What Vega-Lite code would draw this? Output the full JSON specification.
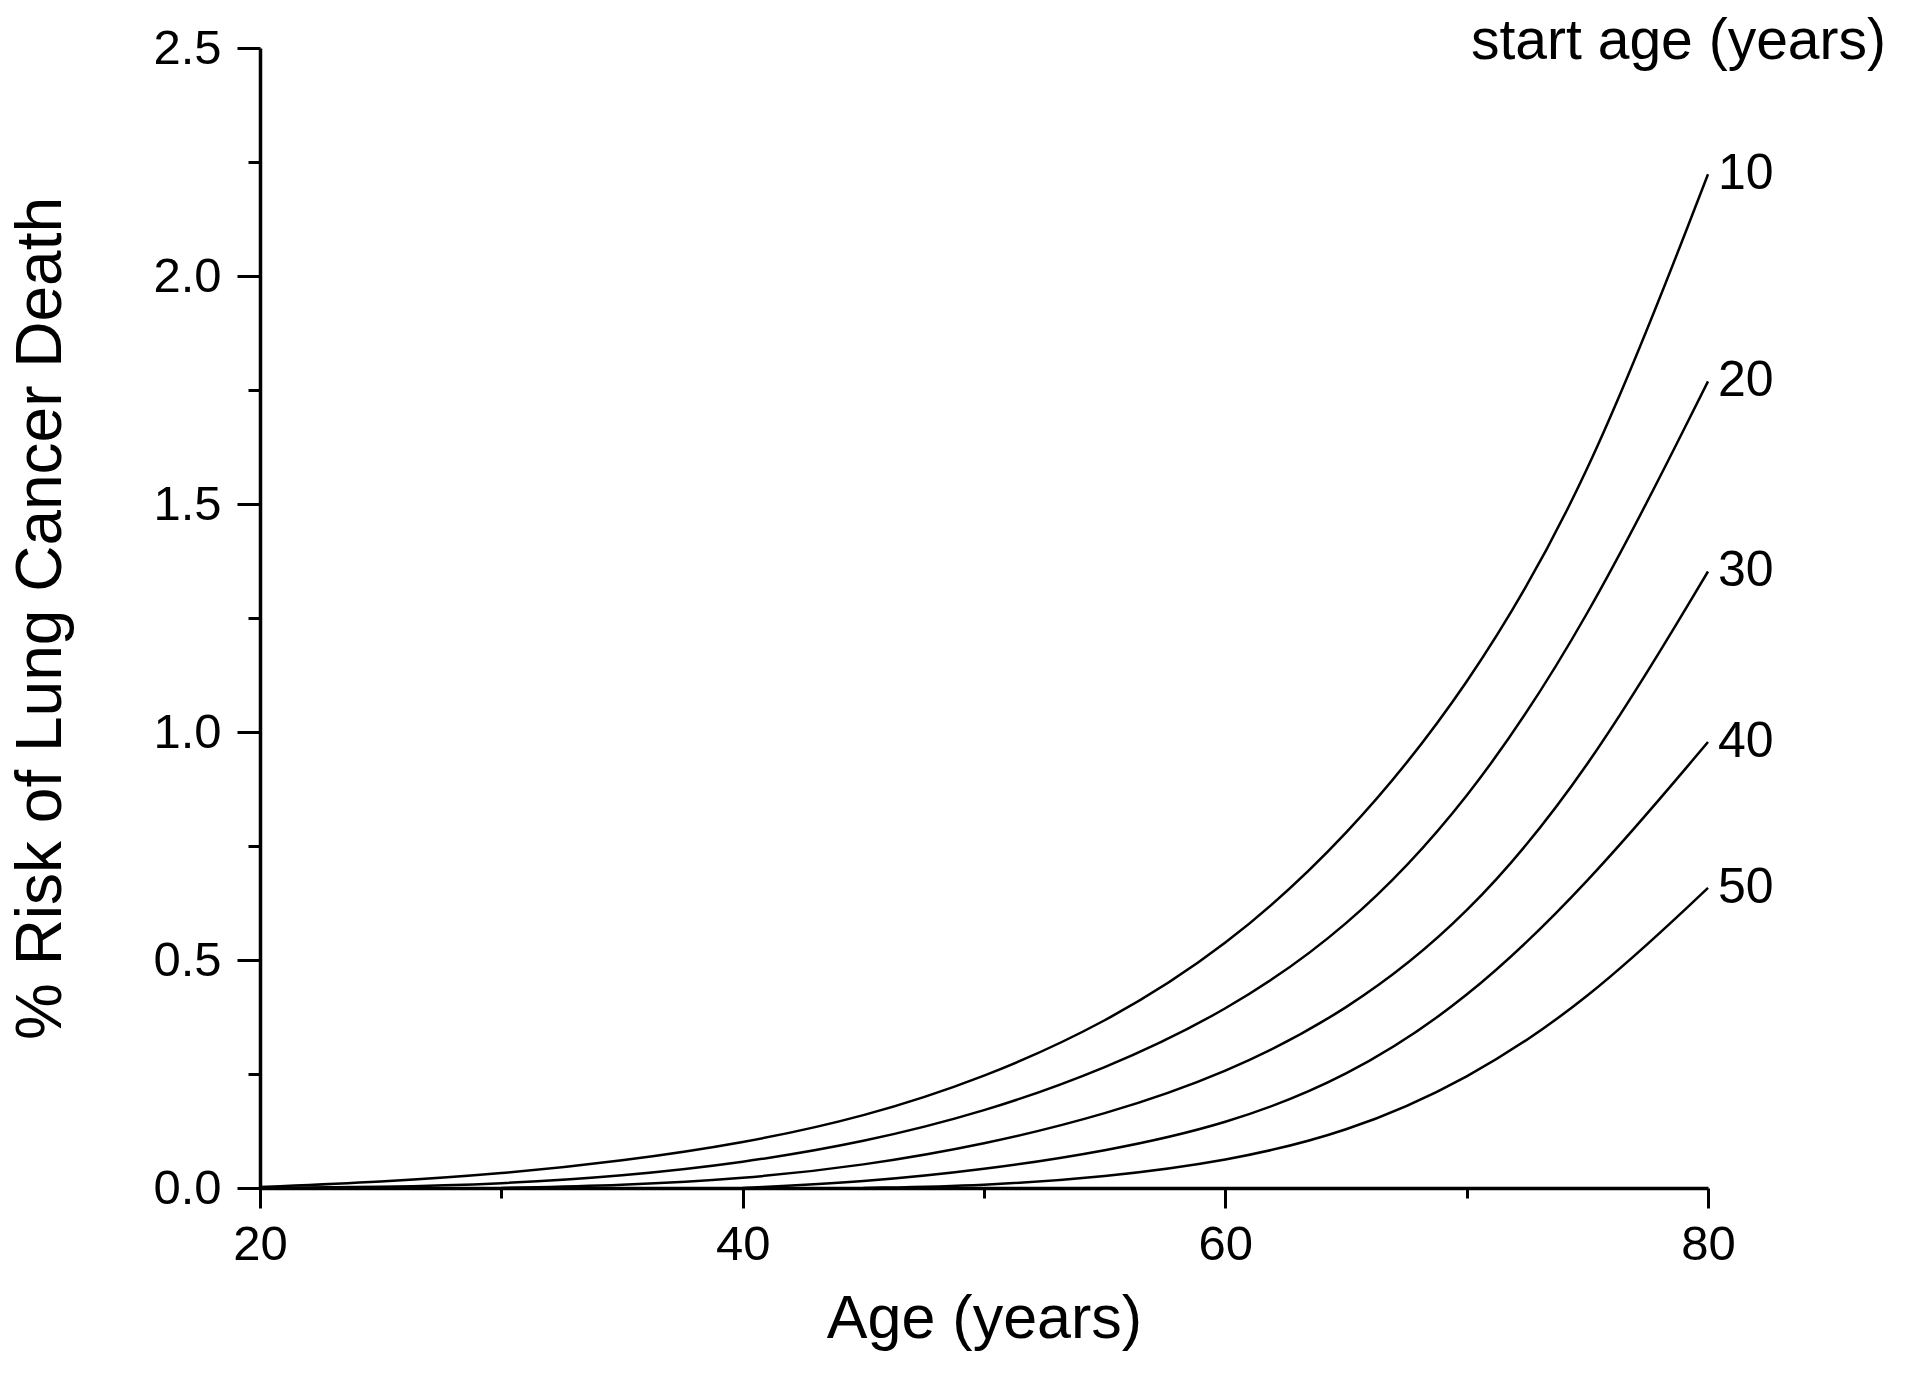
{
  "$schema": "https://vega.github.io/schema/vega-lite/v6.json",
  "width": 1448,
  "height": 1140,
  "autosize": {"type": "none"},
  "padding": {"left": 260, "top": 48, "right": 212, "bottom": 201},
  "background": "white",
  "title": {
    "text": "start age (years)",
    "anchor": "end",
    "frame": "group",
    "orient": "top",
    "offset": 0,
    "dx": 178,
    "dy": 92,
    "baseline": "alphabetic",
    "fontSize": 57,
    "font": "Liberation Sans",
    "fontWeight": "normal",
    "color": "black"
  },
  "config": {
    "view": {"stroke": null},
    "axis": {
      "domainColor": "black",
      "domainWidth": 3.5,
      "tickColor": "black",
      "tickWidth": 3,
      "labelColor": "black",
      "labelFont": "Liberation Sans",
      "labelFlush": false,
      "titleFont": "Liberation Sans",
      "titleColor": "black",
      "titleFontWeight": "normal",
      "grid": false
    }
  },
  "data": {
    "values": [
      {"start": "10", "age": 20, "risk": 0.002},
      {"start": "10", "age": 25, "risk": 0.013},
      {"start": "10", "age": 30, "risk": 0.031},
      {"start": "10", "age": 35, "risk": 0.059},
      {"start": "10", "age": 40, "risk": 0.098},
      {"start": "10", "age": 45, "risk": 0.155},
      {"start": "10", "age": 50, "risk": 0.241},
      {"start": "10", "age": 55, "risk": 0.36},
      {"start": "10", "age": 60, "risk": 0.526},
      {"start": "10", "age": 65, "risk": 0.765},
      {"start": "10", "age": 70, "risk": 1.09},
      {"start": "10", "age": 75, "risk": 1.54},
      {"start": "10", "age": 80, "risk": 2.223},
      {"start": "20", "age": 20, "risk": 0.0},
      {"start": "20", "age": 25, "risk": 0.002},
      {"start": "20", "age": 30, "risk": 0.009},
      {"start": "20", "age": 35, "risk": 0.026},
      {"start": "20", "age": 40, "risk": 0.055},
      {"start": "20", "age": 45, "risk": 0.1},
      {"start": "20", "age": 50, "risk": 0.166},
      {"start": "20", "age": 55, "risk": 0.26},
      {"start": "20", "age": 60, "risk": 0.385},
      {"start": "20", "age": 65, "risk": 0.565},
      {"start": "20", "age": 70, "risk": 0.84},
      {"start": "20", "age": 75, "risk": 1.24},
      {"start": "20", "age": 80, "risk": 1.769},
      {"start": "30", "age": 30, "risk": 0.0},
      {"start": "30", "age": 35, "risk": 0.006},
      {"start": "30", "age": 40, "risk": 0.02},
      {"start": "30", "age": 45, "risk": 0.049},
      {"start": "30", "age": 50, "risk": 0.095},
      {"start": "30", "age": 55, "risk": 0.16},
      {"start": "30", "age": 60, "risk": 0.25},
      {"start": "30", "age": 65, "risk": 0.385},
      {"start": "30", "age": 70, "risk": 0.59},
      {"start": "30", "age": 75, "risk": 0.91},
      {"start": "30", "age": 80, "risk": 1.352},
      {"start": "40", "age": 40, "risk": 0.0},
      {"start": "40", "age": 45, "risk": 0.013},
      {"start": "40", "age": 50, "risk": 0.04},
      {"start": "40", "age": 55, "risk": 0.08},
      {"start": "40", "age": 60, "risk": 0.138},
      {"start": "40", "age": 65, "risk": 0.24},
      {"start": "40", "age": 70, "risk": 0.41},
      {"start": "40", "age": 75, "risk": 0.665},
      {"start": "40", "age": 80, "risk": 0.978},
      {"start": "50", "age": 45, "risk": 0.0},
      {"start": "50", "age": 50, "risk": 0.005},
      {"start": "50", "age": 55, "risk": 0.024},
      {"start": "50", "age": 60, "risk": 0.058},
      {"start": "50", "age": 65, "risk": 0.12},
      {"start": "50", "age": 70, "risk": 0.235},
      {"start": "50", "age": 75, "risk": 0.41},
      {"start": "50", "age": 80, "risk": 0.658}
    ]
  },
  "layer": [
    {
      "mark": {"type": "line", "color": "black", "strokeWidth": 2.5, "interpolate": "basis"},
      "encoding": {
        "x": {
          "field": "age",
          "type": "quantitative",
          "scale": {"domain": [20, 80], "nice": false, "zero": false},
          "axis": {
            "title": "Age (years)",
            "values": [20, 30, 40, 50, 60, 70, 80],
            "labelExpr": "datum.value % 20 === 0 ? datum.label : ''",
            "tickSize": {"condition": {"test": "datum.value % 20 === 0", "value": 20}, "value": 10},
            "labelFontSize": 49,
            "labelPadding": 12,
            "titleFontSize": 61,
            "titlePadding": 20
          }
        },
        "y": {
          "field": "risk",
          "type": "quantitative",
          "scale": {"domain": [0, 2.5], "nice": false},
          "axis": {
            "title": "% Risk of Lung Cancer Death",
            "values": [0, 0.25, 0.5, 0.75, 1, 1.25, 1.5, 1.75, 2, 2.25, 2.5],
            "labelExpr": "datum.value % 0.5 === 0 ? format(datum.value, '.1f') : ''",
            "tickSize": {"condition": {"test": "datum.value % 0.5 === 0", "value": 23}, "value": 12},
            "labelFontSize": 49,
            "labelPadding": 16,
            "titleFontSize": 64,
            "titlePadding": 79
          }
        },
        "detail": {"field": "start"}
      }
    },
    {
      "transform": [{"filter": "datum.age === 80"}],
      "mark": {"type": "text", "align": "left", "baseline": "middle", "dx": 10, "dy": 0, "fontSize": 50, "font": "Liberation Sans", "color": "black"},
      "encoding": {
        "x": {"field": "age", "type": "quantitative"},
        "y": {"field": "risk", "type": "quantitative"},
        "text": {"field": "start"}
      }
    }
  ]
}
